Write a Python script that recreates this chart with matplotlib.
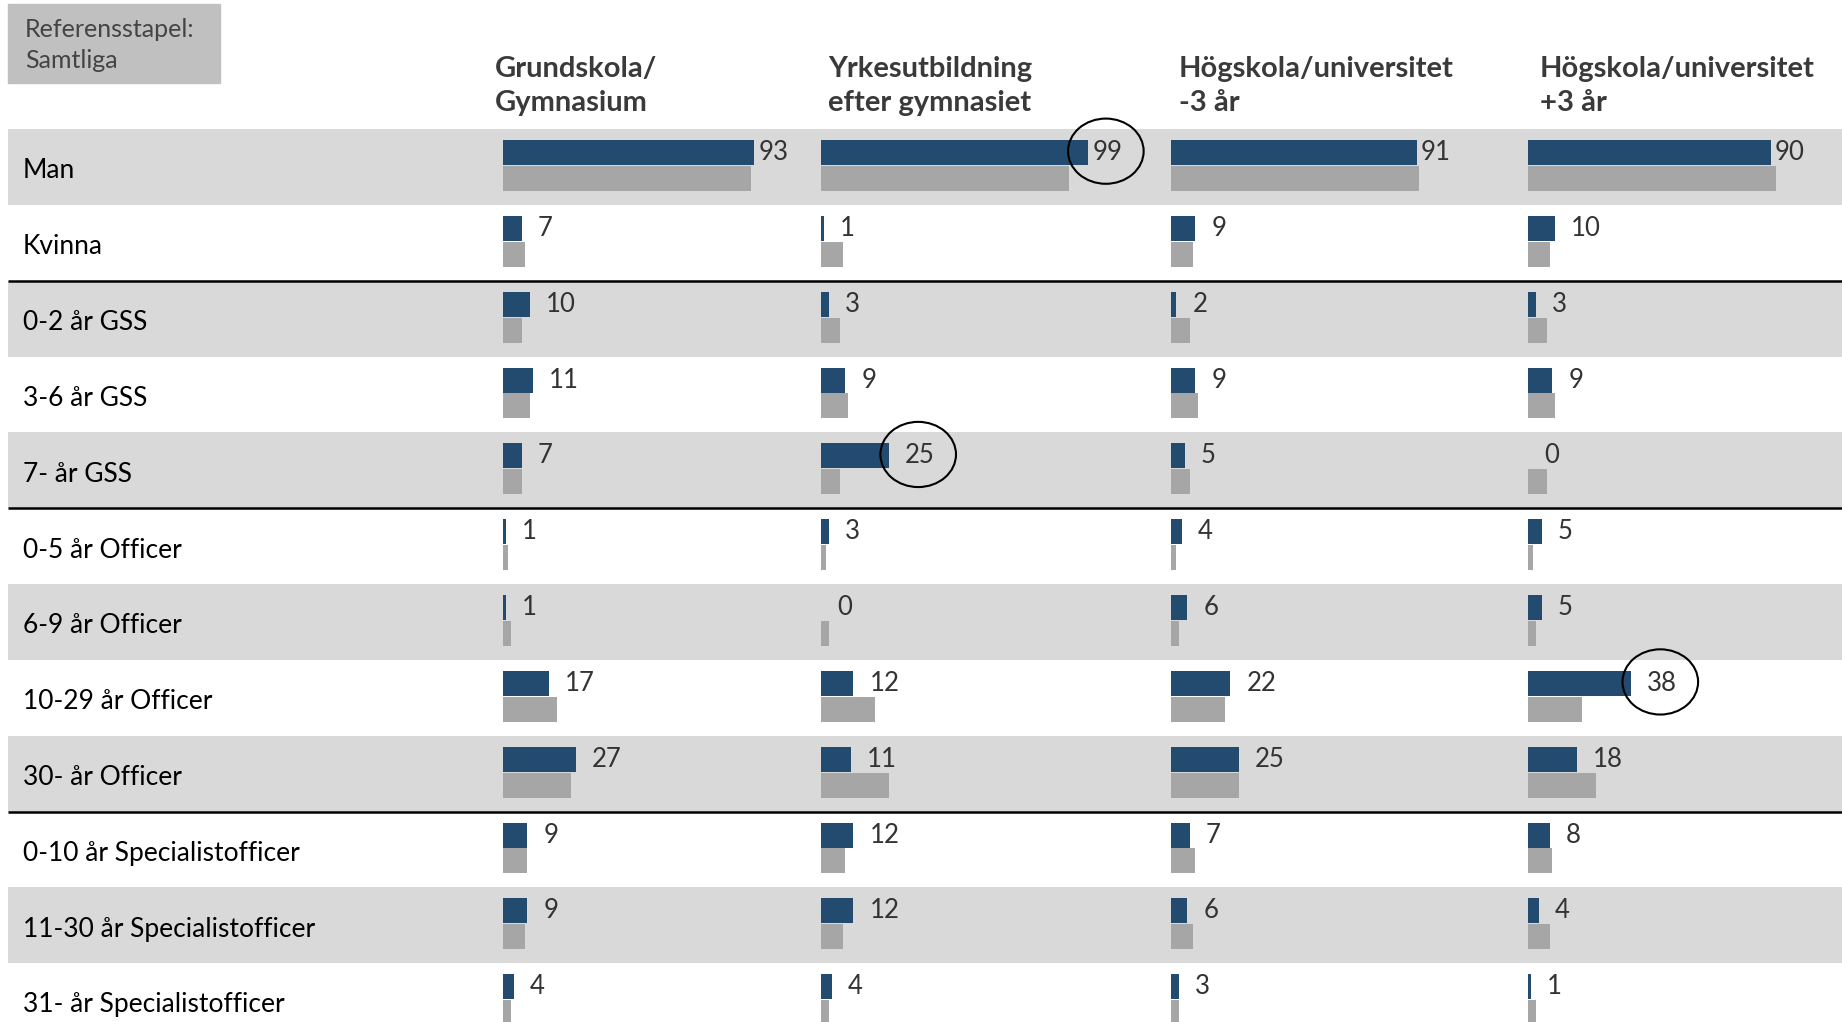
import matplotlib.pyplot as plt
from matplotlib.patches import Ellipse, Rectangle

plt.rcParams['font.family'] = ['Lato', 'DejaVu Sans']

# DATA
ROWS = ["Man", "Kvinna", "0-2 år GSS", "3-6 år GSS", "7- år GSS",
        "0-5 år Officer", "6-9 år Officer", "10-29 år Officer", "30- år Officer",
        "0-10 år Specialistofficer", "11-30 år Specialistofficer",
        "31- år Specialistofficer"]
COLUMNS = ["Grundskola/\nGymnasium", "Yrkesutbildning\nefter gymnasiet",
           "Högskola/universitet\n-3 år", "Högskola/universitet\n+3 år"]
grundskola = [93, 7, 10, 11, 7, 1, 1, 17, 27, 9, 9, 4]
yrkesutbildning = [99, 1, 3, 9, 25, 3, 0, 12, 11, 12, 12, 4]
hogskola_minus3 = [91, 9, 2, 9, 5, 4, 6, 22, 25, 7, 6, 3]
hogskola_plus3 = [90, 10, 3, 9, 0, 5, 5, 38, 18, 8, 4, 1]
samtliga = [92, 8, 7, 10, 7, 2, 3, 20, 25, 9, 8, 3]   # reference bar
GROUP_ENDS = [1, 4, 8]                  # separator line below these rows
HIGHLIGHTS = [(1, 0), (1, 4), (3, 7)]   # (column, row) with a circle
LEGEND_TEXT = "Referensstapel:\nSamtliga"

SERIES = [grundskola, yrkesutbildning, hogskola_minus3, hogskola_plus3]

# LAYOUT (pixels of the 1842x1022 output)
W, H = 1842, 1022
ROW_TOP, ROW_H = 129.2, 75.82
COL_START = [503, 821, 1171, 1528]
HEAD_X = [495, 828, 1179, 1540]
PX_PER_UNIT = 2.70

BLUE = "#234a6f"
GREY = "#a6a6a6"
SHADE = "#d9d9d9"

y_top = -0.5 - ROW_TOP / ROW_H
y_bot = y_top + H / ROW_H

fig = plt.figure(figsize=(W / 100, H / 100), dpi=100)

# background: bands, separators, row labels
bg = fig.add_axes([0, 0, 1, 1])
bg.set_xlim(0, W)
bg.set_ylim(y_bot, y_top)
bg.axis("off")
for i, label in enumerate(ROWS):
    if i % 2 == 0:
        bg.barh(i, W - 8, left=8, height=1, color=SHADE, linewidth=0)
    bg.text(23, i + 0.05, label, va="center", ha="left", fontsize=19, color="black")
for g in GROUP_ENDS:
    bg.hlines(g + 0.5, 8, W, color="black", linewidth=1.8)

# legend box
fig.patches.append(Rectangle((8 / W, 1 - 83 / H), 212 / W, 79 / H,
                             transform=fig.transFigure, color="#c0c0c0", zorder=0))
fig.text(25 / W, 1 - 45 / H, LEGEND_TEXT, va="center", ha="left", fontsize=18,
         color="#444444", linespacing=1.45)

# headers
for x, head in zip(HEAD_X, COLUMNS):
    fig.text(x / W, 1 - 86 / H, head, va="center", ha="left", fontsize=21,
             fontweight="bold", color="#3a3a3a", linespacing=1.42)

# bar columns
ypos = list(range(len(ROWS)))
for c, vals in enumerate(SERIES):
    ax = fig.add_axes([COL_START[c] / W, 0, 100 * PX_PER_UNIT / W, 1])
    ax.set_xlim(0, 100)
    ax.set_ylim(y_bot, y_top)
    ax.axis("off")
    ax.patch.set_alpha(0)
    ax.barh([y - 0.19 for y in ypos], vals, height=0.33, color=BLUE, linewidth=0)
    ax.barh([y + 0.15 for y in ypos], samtliga, height=0.33, color=GREY,
            linewidth=0)
    for y, v in zip(ypos, vals):
        gap = 1.5 if v > 80 else 6
        ax.text(v + gap, y - 0.19, str(v), va="center", ha="left", fontsize=18.5,
                color="#333333", clip_on=False)
        if (c, y) in HIGHLIGHTS:
            ax.add_patch(Ellipse((v + gap + 5, y - 0.21), 28, 0.86, fill=False,
                                 edgecolor="black", linewidth=1.5, clip_on=False))

fig.savefig("out.png", dpi=100)
